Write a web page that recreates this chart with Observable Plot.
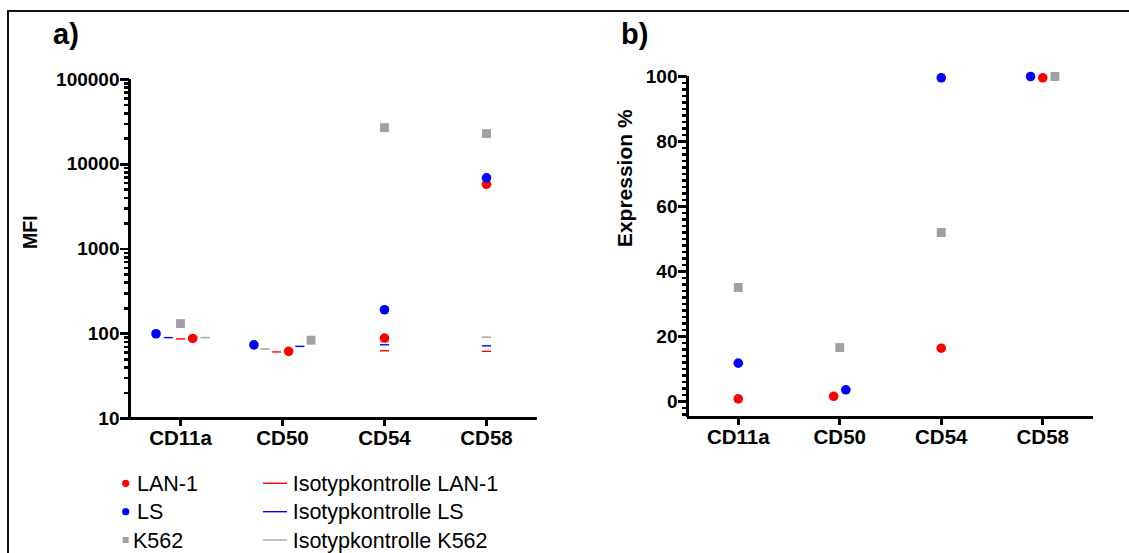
<!DOCTYPE html>
<html>
<head>
<meta charset="utf-8">
<script src="https://cdn.jsdelivr.net/npm/d3@7"></script>
<script src="https://cdn.jsdelivr.net/npm/@observablehq/plot@0.6"></script>
<style>
  html, body { margin: 0; padding: 0; background: #fff; }
  #root { position: relative; width: 1129px; height: 553px; overflow: hidden; font-family: "Liberation Sans", Arial, sans-serif; color: #000; }
  #root svg { position: absolute; }
  .abs { position: absolute; white-space: nowrap; line-height: 1; }
</style>
</head>
<body>
<div id="root"></div>
<script>
// ---------- data ----------
const categories = ["CD11a", "CD50", "CD54", "CD58"];

// a) MFI
const mfiLAN1 = [88, 62, 89, 5800];
const mfiLS   = [100, 74, 192, 6900];
const mfiK562 = [132, 84, 27000, 23000];
const isoLAN1 = [87, 61, 63, 62];
const isoLS   = [90, 71, 74, 72];
const isoK562 = [90, 66, 81, 91];

// b) Expression %
const expLAN1 = [0.8, 1.6, 16.4, 99.6];
const expLS   = [11.8, 3.6, 99.6, 100];
const expK562 = [35.1, 16.6, 52, 100];

const yTicksA = [10, 100, 1000, 10000, 100000];
const yTicksB = [0, 20, 40, 60, 80, 100];

const legendPoints = ["LAN-1", "LS", "K562"];
const legendLines = ["Isotypkontrolle LAN-1", "Isotypkontrolle LS", "Isotypkontrolle K562"];

// ---------- layout (horizontal dodge within a category, in category steps) ----------
const dodgeA = {
  LS:      [-0.24, -0.28, 0, 0],
  isoLS:   [-0.12,  0.17, 0, 0],
  K562:    [ 0,     0.28, 0, 0],
  isoLAN1: [ 0,    -0.06, 0, 0],
  LAN1:    [ 0.12,  0.06, 0, 0],
  isoK562: [ 0.24, -0.17, 0, 0]
};
const dodgeB = {
  LAN1: [0, -0.06, 0, 0],
  LS:   [0,  0.06, 0, -0.12],
  K562: [0,  0,    0,  0.12]
};

const RED = "#ff0000", BLUE = "#0000ff", GRAY = "#a0a0a4", GRAYLINE = "#a8a8a8";
const FONT = "'Liberation Sans', Arial, sans-serif";

const rows = (values, dodge) => values.map((v, i) => ({i, v, x: i + dodge[i]}));

const hline = {
  draw(ctx, size) {
    const r = Math.sqrt(size / Math.PI);
    ctx.moveTo(-r, 0);
    ctx.lineTo(r, 0);
  }
};

const root = document.getElementById("root");

function div(styles, text) {
  const d = document.createElement("div");
  d.className = "abs";
  Object.assign(d.style, styles);
  if (text != null) d.textContent = text;
  root.appendChild(d);
  return d;
}

// ---------- frame and panel letters ----------
div({left: "7px", top: "10px", width: "1122px", height: "2px", background: "#111"});
div({left: "7px", top: "10px", width: "2px", height: "543px", background: "#111"});
div({left: "53px", top: "19.5px", fontSize: "29px", fontWeight: "bold"}, "a)");
div({left: "621px", top: "19.5px", fontSize: "29px", fontWeight: "bold"}, "b)");

// ---------- legend (small SVG below the panels) ----------
const legColors = [RED, BLUE, GRAY];
const legLineColors = [RED, BLUE, GRAYLINE];
const rowY = [483.3, 511.7, 540];
const LY0 = 465;
const leg = d3.select(root).append("svg")
  .attr("width", 560).attr("height", 553 - LY0)
  .style("left", "0px").style("top", LY0 + "px")
  .attr("font-family", FONT);
legendPoints.forEach((name, k) => {
  const y = rowY[k] - LY0;
  if (k < 2) {
    leg.append("circle").attr("cx", 125.7).attr("cy", y).attr("r", 3.6).attr("fill", legColors[k]);
  } else {
    leg.append("rect").attr("x", 122.7).attr("y", y - 3).attr("width", 6).attr("height", 6).attr("fill", legColors[k]);
  }
  leg.append("text").attr("x", k < 2 ? 137 : 133).attr("y", y + 7.5).attr("font-size", 21.5).text(name);
});
legendLines.forEach((name, k) => {
  const y = rowY[k] - LY0;
  leg.append("line").attr("x1", 263).attr("x2", 287).attr("y1", y).attr("y2", y).attr("stroke", legLineColors[k]).attr("stroke-width", 1.4);
  leg.append("text").attr("x", 292.7).attr("y", y + 7.5).attr("font-size", 21.5).text(name);
});

// ---------- panel a ----------
const minorA = [];
for (let e = 1; e < 5; e++) for (let m = 2; m <= 9; m++) minorA.push(m * Math.pow(10, e));

const plotStyle = {background: "transparent", color: "black", fontFamily: FONT, overflow: "visible"};
const AX = {stroke: "#000", strokeWidth: 2.6, label: null, shapeRendering: "crispEdges"};
const RULE = {stroke: "#000", strokeWidth: 3, shapeRendering: "crispEdges"};

const plotA = Plot.plot({
  width: 550, height: 405,
  marginLeft: 119, marginRight: 23, marginTop: 24, marginBottom: 42,
  style: plotStyle,
  x: {type: "linear", domain: [-0.5, 3.5], axis: null, label: null},
  y: {type: "log", domain: [10, 100000], axis: null, label: null},
  marks: [
    Plot.axisY({...AX, ticks: minorA, tickSize: 5, tickFormat: () => ""}),
    Plot.axisY({...AX, ticks: yTicksA, tickSize: 9, tickPadding: 1, tickFormat: d => String(d), fontSize: 19, fontWeight: "bold"}),
    Plot.axisX({...AX, ticks: [0, 1, 2, 3], tickSize: 8, tickPadding: 4, tickFormat: i => categories[i], fontSize: 20.5, fontWeight: "bold"}),
    Plot.ruleX([-0.5], RULE),
    Plot.ruleY([10], RULE),
    Plot.text(["MFI"], {frameAnchor: "left", dx: -99, rotate: -90, fontSize: 19.5, fontWeight: "bold", fill: "black"}),
    Plot.dot(rows(isoK562, dodgeA.isoK562), {x: "x", y: "v", symbol: hline, r: 4.6, stroke: GRAYLINE, strokeWidth: 1.6, fill: "none"}),
    Plot.dot(rows(isoLS, dodgeA.isoLS), {x: "x", y: "v", symbol: hline, r: 4.6, stroke: BLUE, strokeWidth: 1.4, fill: "none"}),
    Plot.dot(rows(isoLAN1, dodgeA.isoLAN1), {x: "x", y: "v", symbol: hline, r: 4.6, stroke: RED, strokeWidth: 1.4, fill: "none"}),
    Plot.dot(rows(mfiK562, dodgeA.K562), {x: "x", y: "v", symbol: "square", r: 5, fill: GRAY, stroke: "none"}),
    Plot.dot(rows(mfiLAN1, dodgeA.LAN1), {x: "x", y: "v", r: 4.8, fill: RED, stroke: "none"}),
    Plot.dot(rows(mfiLS, dodgeA.LS), {x: "x", y: "v", r: 4.8, fill: BLUE, stroke: "none"})
  ]
});
plotA.style.left = "10px";
plotA.style.top = "55px";
root.appendChild(plotA);

// ---------- panel b ----------
const minorB = d3.range(-4, 100, 2).filter(v => v % 20 !== 0);

const plotB = Plot.plot({
  width: 569, height: 405,
  marginLeft: 127, marginRight: 36, marginTop: 21, marginBottom: 42.75,
  style: plotStyle,
  x: {type: "linear", domain: [-0.5, 3.5], axis: null, label: null},
  y: {type: "linear", domain: [-5, 100], axis: null, label: null},
  marks: [
    Plot.axisY({...AX, ticks: minorB, tickSize: 5, tickFormat: () => ""}),
    Plot.axisY({...AX, ticks: yTicksB, tickSize: 9, tickPadding: 1, tickFormat: d => String(d), fontSize: 19, fontWeight: "bold"}),
    Plot.axisX({...AX, ticks: [0, 1, 2, 3], tickSize: 8, tickPadding: 4, tickFormat: i => categories[i], fontSize: 20.5, fontWeight: "bold"}),
    Plot.ruleX([-0.5], RULE),
    Plot.ruleY([-5], RULE),
    Plot.text(["Expression %"], {frameAnchor: "left", dx: -62, rotate: -90, fontSize: 21, fontWeight: "bold", fill: "black"}),
    Plot.dot(rows(expK562, dodgeB.K562), {x: "x", y: "v", symbol: "square", r: 5, fill: GRAY, stroke: "none"}),
    Plot.dot(rows(expLAN1, dodgeB.LAN1), {x: "x", y: "v", r: 4.8, fill: RED, stroke: "none"}),
    Plot.dot(rows(expLS, dodgeB.LS), {x: "x", y: "v", r: 4.8, fill: BLUE, stroke: "none"})
  ]
});
plotB.style.left = "560px";
plotB.style.top = "55px";
root.appendChild(plotB);
</script>
</body>
</html>
